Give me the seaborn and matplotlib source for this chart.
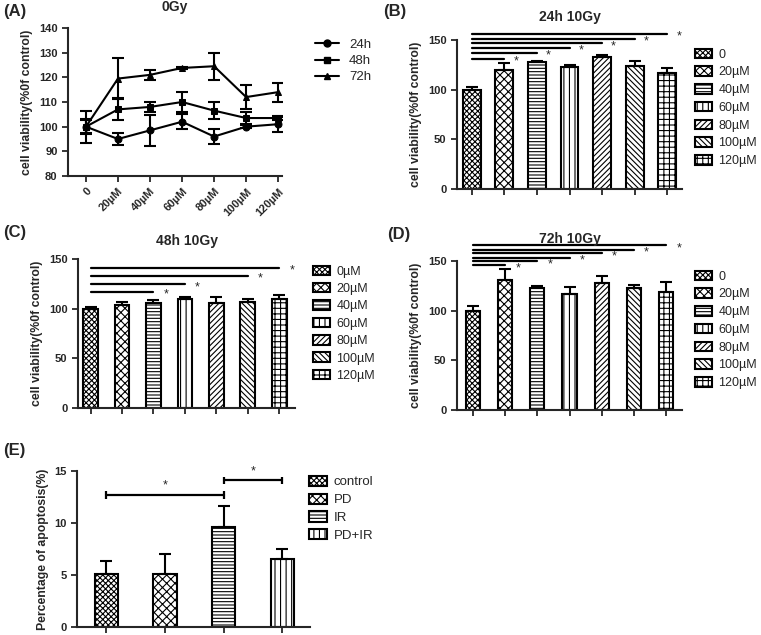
import seaborn as sns
import matplotlib.pyplot as plt
from matplotlib.patches import Patch
from matplotlib.lines import Line2D
import numpy as np

sns.set_style("ticks")
plt.rcParams['font.family'] = ['Liberation Sans', 'DejaVu Sans']
plt.rcParams['hatch.linewidth'] = 0.8
plt.rcParams['axes.linewidth'] = 1.5

# ---- data ----
conc = ["0", "20µM", "40µM", "60µM", "80µM", "100µM", "120µM"]
conc_c = ["0µM", "20µM", "40µM", "60µM", "80µM", "100µM", "120µM"]

via_24h = [100, 95, 98.5, 102, 96, 100, 101]
err_24h = [6.5, 2.3, 6.3, 3, 3, 0.7, 3]
via_48h = [100, 107, 108, 110, 106.5, 103.5, 103.5]
err_48h = [3, 4.5, 2, 4, 3.5, 2.5, 1]
via_72h = [100, 119.5, 121, 123.8, 124.5, 112, 114]
err_72h = [2.5, 8.3, 2, 0.5, 5.5, 5, 3.8]

bar_b = [100, 120, 127.5, 122.5, 132.5, 124, 117]
err_b = [3, 7, 1, 2.5, 2, 4.5, 5]
sig_b_to = [1, 2, 3, 4, 5, 6]
sig_b_y = [131, 136.5, 141.5, 146.5, 151.5, 156.5]

bar_c = [100, 104, 106, 110, 106, 107, 110]
err_c = [1.5, 2.5, 2.5, 2, 6, 2.5, 4]
sig_c_to = [2, 3, 5, 6]
sig_c_y = [117, 124.5, 133, 141]

bar_d = [100, 131, 122.5, 117, 127.5, 122.5, 118.5]
err_d = [5, 11, 2, 7, 7, 3, 10]
sig_d_to = [1, 2, 3, 4, 5, 6]
sig_d_y = [145.5, 149.5, 153.5, 158, 161.5, 166]

groups_e = ["control", "PD", "IR", "PD+IR"]
apop_e = [5.05, 5.1, 9.6, 6.5]
err_e = [1.3, 1.9, 2.0, 1.0]
brk_e = [(0, 2, 12.7), (2, 3, 14.1)]

hatches = ["xxxxxx", "xxxx", "-----", "|||", "//////", "\\\\\\\\\\\\", "+++"]
hatches_e = ["xxxxxx", "xxxx", "-----", "|||"]

W, H = 761, 635
fig = plt.figure(figsize=(W / 100, H / 100), dpi=100)


def px_axes(l, t, r, b):
    return fig.add_axes([l / W, 1 - b / H, (r - l) / W, (b - t) / H])


def style_ax(ax, ylabel):
    sns.despine(ax=ax)
    ax.tick_params(direction="out", length=4, width=1.3, labelsize=8)
    for lab in ax.get_yticklabels():
        lab.set_fontweight("bold")
    ax.set_ylabel(ylabel, fontsize=8.8, fontweight="bold")
    ax.set_xlabel("")


def bar_panel(ax, cats, vals, errs, hs, width):
    sns.barplot(x=cats, y=vals, ax=ax, color="white", edgecolor="black",
                linewidth=1.5, width=width, saturation=1)
    for p, h in zip(ax.patches, hs):
        p.set_hatch(h)
    xs = np.arange(len(vals))
    ax.errorbar(xs, vals, yerr=[np.zeros(len(errs)), errs], fmt="none",
                ecolor="black", elinewidth=1.5, capsize=4, capthick=1.5)
    ax.set_xticks(xs)
    ax.set_xticklabels([])


def sig_lines(ax, targets, ys, dx=0.35, dy=-2.5):
    for t, y in zip(targets, ys):
        ax.plot([0, t], [y, y], color="black", lw=1.6, clip_on=False)
        ax.text(t + dx, y + dy, "*", fontsize=9, ha="center", va="center",
                clip_on=False)


def bar_legend(hs, labels, anchor, fs=9.5, sp=0.45):
    handles = [Patch(facecolor="white", edgecolor="black", hatch=h, lw=1.5) for h in hs]
    fig.legend(handles, labels, loc="upper left", bbox_to_anchor=anchor,
               frameon=False, fontsize=fs, handlelength=1.4, handleheight=0.8,
               labelspacing=sp, handletextpad=0.5, borderaxespad=0,
               borderpad=0.2)


# ---- (A) line chart ----
axA = px_axes(68, 28, 282, 176)
xs = np.arange(len(conc))
for vals, errs, mk, lab in [(via_24h, err_24h, "o", "24h"),
                            (via_48h, err_48h, "s", "48h"),
                            (via_72h, err_72h, "^", "72h")]:
    sns.lineplot(x=xs, y=vals, ax=axA, color="black", marker=mk, markersize=5,
                 markeredgecolor="black", lw=1.5, label=lab, legend=False)
    axA.errorbar(xs, vals, yerr=errs, fmt="none", ecolor="black",
                 elinewidth=1.5, capsize=4, capthick=1.5)
axA.set_ylim(80, 140)
axA.set_yticks(range(80, 141, 10))
axA.set_xlim(-0.56, 6.12)
axA.set_xticks(xs)
axA.set_xticklabels(conc, rotation=45, ha="right", rotation_mode="anchor",
                    fontweight="bold")
style_ax(axA, "cell viability(%0f control)")
axA.set_title("0Gy", fontsize=10, fontweight="bold", pad=12)
handlesA = [Line2D([], [], color="black", marker=m, markersize=5, lw=1.5)
            for m in ["o", "s", "^"]]
fig.legend(handlesA, ["24h", "48h", "72h"], loc="upper left",
           bbox_to_anchor=(303 / W, 1 - 27 / H), frameon=False, fontsize=9.5,
           handlelength=1.8, labelspacing=0.3)

# ---- (B) ----
axB = px_axes(457, 40, 682, 189)
bar_panel(axB, conc, bar_b, err_b, hatches, 0.55)
axB.set_ylim(0, 150)
axB.set_yticks([0, 50, 100, 150])
axB.set_xlim(-0.45, 6.45)
style_ax(axB, "cell viability(%0f control)")
sig_lines(axB, sig_b_to, sig_b_y)
axB.set_title("24h 10Gy", fontsize=10, fontweight="bold", pad=14)
bar_legend(hatches, conc, (692 / W, 1 - 46 / H), fs=9)

# ---- (C) ----
axC = px_axes(78, 259, 295, 408)
bar_panel(axC, conc_c, bar_c, err_c, hatches, 0.47)
axC.set_ylim(0, 150)
axC.set_yticks([0, 50, 100, 150])
axC.set_xlim(-0.4, 6.5)
style_ax(axC, "cell viability(%0f control)")
sig_lines(axC, sig_c_to, sig_c_y, dx=0.4, dy=-3)
axC.set_title("48h 10Gy", fontsize=10, fontweight="bold", pad=10)
bar_legend(hatches_c := hatches, conc_c, (310 / W, 1 - 263 / H), fs=9, sp=0.42)

# ---- (D) ----
axD = px_axes(457, 261, 682, 410)
bar_panel(axD, conc, bar_d, err_d, hatches, 0.44)
axD.set_ylim(0, 150)
axD.set_yticks([0, 50, 100, 150])
axD.set_xlim(-0.5, 6.5)
style_ax(axD, "cell viability(%0f control)")
sig_lines(axD, sig_d_to, sig_d_y, dx=0.4, dy=-3)
axD.set_title("72h 10Gy", fontsize=10, fontweight="bold", pad=13)
bar_legend(hatches, conc, (692 / W, 1 - 268 / H), fs=9)

# ---- (E) ----
axE = px_axes(77, 471, 310, 627)
bar_panel(axE, groups_e, apop_e, err_e, hatches_e, 0.4)
axE.set_ylim(0, 15)
axE.set_yticks([0, 5, 10, 15])
axE.set_xlim(-0.5, 3.47)
style_ax(axE, "Percentage of apoptosis(%)")
for a, b, y in brk_e:
    axE.errorbar([a, b], [y, y], yerr=0.35, color="black", lw=1.6,
                 elinewidth=1.6, capsize=0, clip_on=False)
    axE.text((a + b) / 2, y + 0.3, "*", fontsize=9, ha="center", va="bottom")
bar_legend(hatches_e, groups_e, (306 / W, 1 - 473 / H), sp=0.4)

# ---- panel letters ----
for lab, x, y in [("(A)", 3, 4), ("(B)", 383, 4), ("(C)", 3, 225),
                  ("(D)", 387, 227), ("(E)", 3, 443)]:
    fig.text(x / W, 1 - y / H, lab, fontsize=12, fontweight="bold",
             va="top", ha="left")

fig.savefig("out.png", dpi=100)
plt.close()
